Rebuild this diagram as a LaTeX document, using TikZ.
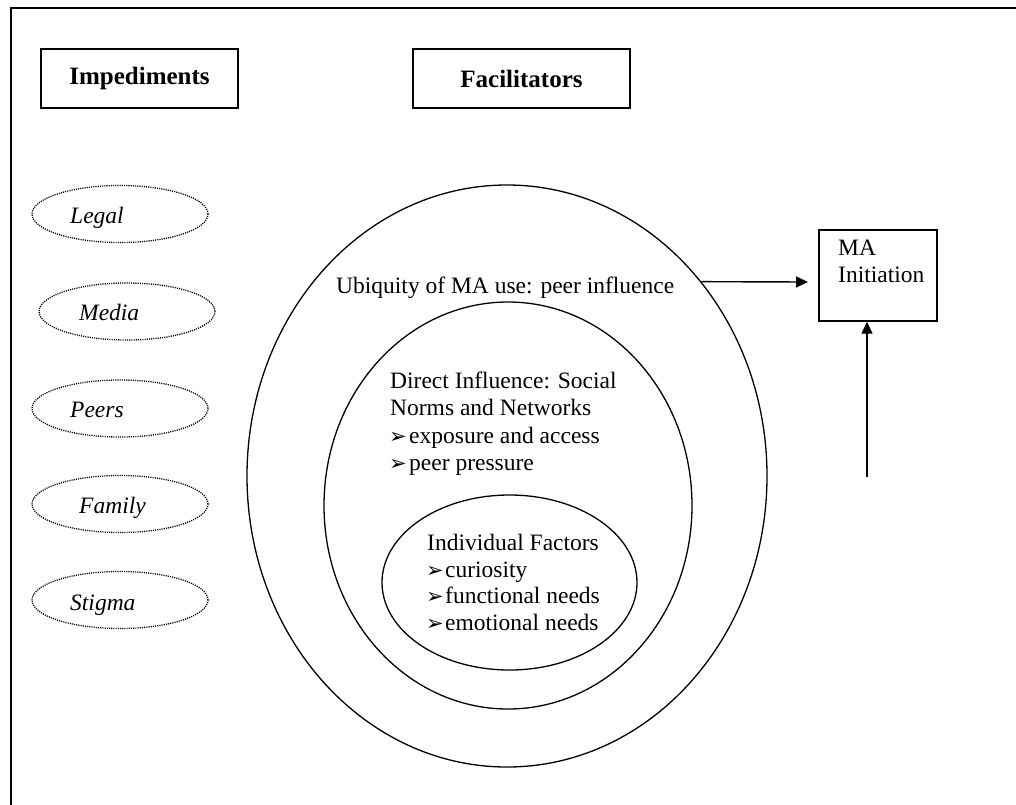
\documentclass[tikz,border=0pt]{standalone}
\usepackage{fontspec}
\setmainfont{Liberation Serif}
\newfontfamily\dvfont{DejaVu Sans}
\usetikzlibrary{shapes.geometric,arrows.meta}
\newcommand\bulglyph{{\dvfont\fontsize{21}{21}\selectfont ➢}}
\begin{document}
\begin{tikzpicture}[x=1pt,y=-1pt,
  txt/.style={anchor=base west, inner sep=0pt, font=\fontsize{23.5}{27.5}\selectfont},
  ital/.style={anchor=base west, inner sep=0pt, font=\fontsize{23.5}{27.5}\selectfont\itshape},
  bul/.style={anchor=base west, inner sep=0pt},
  imp/.style={draw, ellipse, line width=1.3pt, dash pattern=on 1.1pt off 1.1pt, minimum width=176, minimum height=57, inner sep=0pt},
  ring/.style={draw, ellipse, line width=1.3pt, inner sep=0pt},
  hbox/.style={draw, line width=1.4pt, inner sep=0pt, font=\fontsize{25}{28}\selectfont\bfseries},
  arr/.style={line width=1.4pt, -{Triangle[length=12pt,width=11pt]}},
]
\useasboundingbox (0,0) rectangle (1016,804);
\draw[line width=2.3pt] (11,830) -- (11,8) -- (1040,8);

% header boxes
\node[hbox, minimum width=197, minimum height=59] (impbox) at (139.5,78.5) {Impediments};
\node[hbox, minimum width=217, minimum height=59] (facbox) at (521.5,78.5) {Facilitators};

% impediments
\node[imp] (legal) at (120,214) {};
\node[imp] (media) at (127,311.5) {};
\node[imp] (peers) at (120,408.5) {};
\node[imp] (family) at (120,504) {};
\node[imp] (stigma) at (120,600) {};
\node[ital] (tlegal) at (70,223) {Legal};
\node[ital] (tmedia) at (79,320) {Media};
\node[ital] (tpeers) at (70,417) {Peers};
\node[ital] (tfamily) at (79,513) {Family};
\node[ital] (tstigma) at (70,610) {Stigma};

% facilitators rings
\node[ring, minimum width=520, minimum height=582] (outer) at (507,476) {};
\node[ring, minimum width=368, minimum height=407] (middle) at (508,505.5) {};
\node[ring, minimum width=255, minimum height=175] (inner) at (509.5,582.5) {};

\node[txt] (ubiq) at (336,293) {Ubiquity of MA use: peer influence};
\node[txt] (d1) at (390,388) {Direct Influence: Social};
\node[txt] (d2) at (390,415) {Norms and Networks};
\node[bul] (b1) at (389,443) {\bulglyph};
\node[txt] (d3) at (409,443) {exposure and access};
\node[bul] (b2) at (389,470) {\bulglyph};
\node[txt] (d4) at (409,470) {peer pressure};
\node[txt] (i1) at (427,550) {Individual Factors};
\node[bul] (b3) at (426,577) {\bulglyph};
\node[txt] (i2) at (445,577) {curiosity};
\node[bul] (b4) at (426,603) {\bulglyph};
\node[txt] (i3) at (445,603) {functional needs};
\node[bul] (b5) at (426,630) {\bulglyph};
\node[txt] (i4) at (445,630) {emotional needs};

% MA initiation
\node[draw, line width=1.4pt, minimum width=118, minimum height=91, inner sep=0pt] (ma) at (878,275.5) {};
\node[txt] (ma1) at (838,255) {MA};
\node[txt] (ma2) at (838,282) {Initiation};

\coordinate (tip) at (808,282);
\coordinate (base) at (867,477);
\draw[arr] (outer.45) -- (tip);
\draw[arr] (base) -- (base |- ma.south);
\end{tikzpicture}
\end{document}
